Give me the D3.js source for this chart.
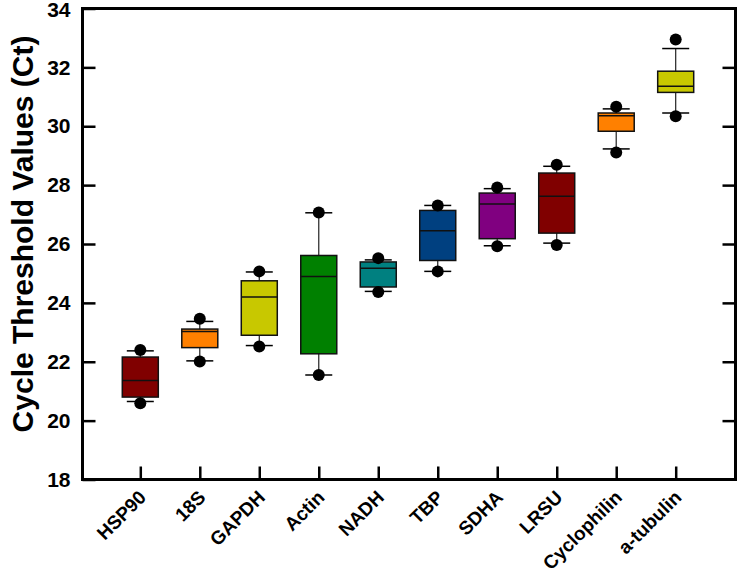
<!DOCTYPE html>
<html>
<head>
<meta charset="utf-8">
<script src="https://cdn.jsdelivr.net/npm/d3@7"></script>
<style>
  body { margin: 0; background: #fff; }
  text { font-family: Arial, "Liberation Sans", sans-serif; font-weight: bold; }
</style>
</head>
<body>
<div id="chart"></div>
<script>
// Reference genes, ordered by Ct.
var genes      = ["HSP90", "18S", "GAPDH", "Actin", "NADH", "TBP", "SDHA", "LRSU", "Cyclophilin", "a-tubulin"];
// Box: 25th percentile, median, 75th percentile.
var q1         = [20.80, 22.48, 22.90, 22.27, 24.54, 25.44, 26.18, 26.37, 29.83, 31.15];
var medians    = [21.36, 23.03, 24.20, 24.90, 25.18, 26.45, 27.36, 27.62, 30.36, 31.36];
var q3         = [22.16, 23.11, 24.75, 25.61, 25.39, 27.14, 27.73, 28.41, 30.45, 31.87];
// Whiskers (10th / 90th percentile).
var whiskerLow  = [20.65, 22.03, 22.55, 21.55, 24.39, 25.07, 25.94, 26.03, 29.23, 30.45];
var whiskerHigh = [22.37, 23.37, 25.05, 27.06, 25.46, 27.31, 27.88, 28.64, 30.59, 32.64];
// Outlying points (5th / 95th percentile).
var outLow     = [20.59, 22.01, 22.52, 21.55, 24.37, 25.07, 25.92, 25.97, 29.11, 30.34];
var outHigh    = [22.40, 23.46, 25.07, 27.07, 25.52, 27.31, 27.92, 28.69, 30.66, 32.95];
var boxColors  = ["#800000", "#ff8000", "#c8c800", "#008000", "#008080",
                  "#004080", "#800080", "#800000", "#ff8000", "#c8c800"];
var yTicks     = [18, 20, 22, 24, 26, 28, 30, 32, 34];

var W = 737, H = 578;
// Plot frame (note: 'top' is reserved on window, so use a prefix).
var pLeft = 82.5, pRight = 735.5, pTop = 8.5, pBottom = 479.5;

var svg = d3.select("#chart").append("svg")
    .attr("width", W).attr("height", H);

var x = d3.scalePoint().domain(genes).range([140.3, 675.7]);
var y = d3.scaleLinear().domain([18, 34]).range([pBottom, pTop]);

// Axes (ticks point inward).
svg.append("g")
    .attr("transform", "translate(" + pLeft + ",0)")
    .call(d3.axisLeft(y).tickValues(yTicks).tickSize(-13).tickPadding(12))
    .call(function(g) {
        g.select(".domain").remove();
        g.selectAll("line").attr("stroke", "#000").attr("stroke-width", 2.5);
        g.selectAll("text").attr("font-size", 21).attr("fill", "#000");
        // Keep the top label inside the page.
        g.selectAll("text").filter(function(d) { return d === 34; }).attr("dy", "0.4em");
    });

svg.append("g")
    .attr("transform", "translate(" + pRight + ",0)")
    .call(d3.axisRight(y).tickValues(yTicks.slice(1, -1)).tickSize(-13).tickFormat(""))
    .call(function(g) {
        g.select(".domain").remove();
        g.selectAll("line").attr("stroke", "#000").attr("stroke-width", 2.5);
    });

svg.append("g")
    .attr("transform", "translate(0," + pBottom + ")")
    .call(d3.axisBottom(x).tickSize(-13).tickFormat(""))
    .call(function(g) {
        g.select(".domain").remove();
        g.selectAll("line").attr("stroke", "#000").attr("stroke-width", 2.5);
    });

// X labels, rotated.
svg.append("g").selectAll("text")
    .data(genes).enter().append("text")
    .attr("transform", function(d) { return "translate(" + (x(d) + 7) + "," + (pBottom + 19) + ") rotate(-45)"; })
    .attr("text-anchor", "end")
    .attr("font-size", 19)
    .text(function(d) { return d; });

// Frame.
svg.append("rect")
    .attr("x", pLeft).attr("y", pTop)
    .attr("width", pRight - pLeft).attr("height", pBottom - pTop)
    .attr("fill", "none").attr("stroke", "#000").attr("stroke-width", 3);

// Y title.
svg.append("text")
    .attr("transform", "translate(33,234) rotate(-90)")
    .attr("text-anchor", "middle")
    .attr("font-size", 30)
    .text("Cycle Threshold Values (Ct)");

// Boxes.
var boxW = 36, capW = 27, dotR = 6;
var boxes = svg.append("g").selectAll("g")
    .data(genes).enter().append("g");

boxes.append("line")
    .attr("x1", function(d) { return x(d); }).attr("x2", function(d) { return x(d); })
    .attr("y1", function(d, i) { return y(whiskerLow[i]); })
    .attr("y2", function(d, i) { return y(whiskerHigh[i]); })
    .attr("stroke", "#222").attr("stroke-width", 1.2);

boxes.append("line")
    .attr("x1", function(d) { return x(d) - capW / 2; }).attr("x2", function(d) { return x(d) + capW / 2; })
    .attr("y1", function(d, i) { return y(whiskerLow[i]); })
    .attr("y2", function(d, i) { return y(whiskerLow[i]); })
    .attr("stroke", "#000").attr("stroke-width", 1.5);

boxes.append("line")
    .attr("x1", function(d) { return x(d) - capW / 2; }).attr("x2", function(d) { return x(d) + capW / 2; })
    .attr("y1", function(d, i) { return y(whiskerHigh[i]); })
    .attr("y2", function(d, i) { return y(whiskerHigh[i]); })
    .attr("stroke", "#000").attr("stroke-width", 1.5);

boxes.append("rect")
    .attr("x", function(d) { return x(d) - boxW / 2; })
    .attr("y", function(d, i) { return y(q3[i]); })
    .attr("width", boxW)
    .attr("height", function(d, i) { return y(q1[i]) - y(q3[i]); })
    .attr("fill", function(d, i) { return boxColors[i]; })
    .attr("stroke", "#111").attr("stroke-width", 1.5);

boxes.append("line")
    .attr("x1", function(d) { return x(d) - boxW / 2; }).attr("x2", function(d) { return x(d) + boxW / 2; })
    .attr("y1", function(d, i) { return y(medians[i]); })
    .attr("y2", function(d, i) { return y(medians[i]); })
    .attr("stroke", "#111").attr("stroke-width", 1.5);

boxes.append("circle")
    .attr("cx", function(d) { return x(d); })
    .attr("cy", function(d, i) { return y(outLow[i]); })
    .attr("r", dotR).attr("fill", "#000");

boxes.append("circle")
    .attr("cx", function(d) { return x(d); })
    .attr("cy", function(d, i) { return y(outHigh[i]); })
    .attr("r", dotR).attr("fill", "#000");
</script>
</body>
</html>
